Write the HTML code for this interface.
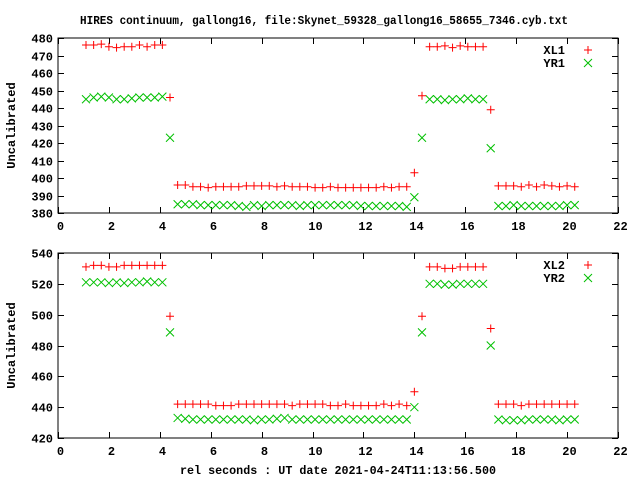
<!DOCTYPE html>
<html><head><meta charset="utf-8"><style>
html,body{margin:0;padding:0;background:#fff}
svg text{font-family:"Liberation Mono",monospace;font-weight:bold;font-size:12px;fill:#000}
</style></head><body>
<svg id="chart" width="640" height="480" viewBox="0 0 640 480" xmlns="http://www.w3.org/2000/svg">
<text x="80" y="24" textLength="488" lengthAdjust="spacingAndGlyphs">HIRES continuum, gallong16, file:Skynet_59328_gallong16_58655_7346.cyb.txt</text>
<text x="180" y="474" textLength="316" lengthAdjust="spacingAndGlyphs">rel seconds : UT date 2021-04-24T11:13:56.500</text>
<g id="top"></g>
<g id="bot"></g>
</svg>
<script>
const times = [];
const t0 = [1.1,1.4,1.7,2.0,2.3,2.6,2.9,3.2,3.5,3.8,4.1,4.4];
const t1 = [4.7,5.0,5.3,5.6,5.9,6.2,6.5,6.8,7.1,7.4,7.7,8.0,8.3,8.6,8.9,9.2,9.5,9.8,10.1,10.4,10.7,11.0,11.3,11.6,11.9,12.2,12.5,12.8,13.1,13.4,13.7,14.0,14.3];
const t2 = [14.6,14.9,15.2,15.5,15.8,16.1,16.4,16.7,17.0];
const t3 = [17.3,17.6,17.9,18.2,18.5,18.8,19.1,19.4,19.7,20.0,20.3];
times.push(...t0,...t1,...t2,...t3);
const xTicks = [0,2,4,6,8,10,12,14,16,18,20,22];
const topTicks = [380,390,400,410,420,430,440,450,460,470,480];
const botTicks = [420,440,460,480,500,520,540];
const xl1 = [476,476,476.5,475,474.5,475,475,476,475,476,476,446,
 396,396,395,395,394.5,395,395,395,395,395.5,395.5,395.5,395.5,395,395.5,395,395,395,394.5,394.5,395,394.5,394.5,394.5,394.5,394.5,394.5,395,394.5,395,395,403,447,
 475,475,475.5,474.5,475.5,475,475,475,439,
 395.5,395.5,395.5,395,396,395,396,395.5,395,395.5,395];
const yr1 = [445,446,446.5,446,445,445,445.5,446,446,446,446.5,423,
 385,385,385,384.5,384.5,384.5,384.5,384.5,384,383.5,384.5,384,384.5,384.5,384.5,384.5,384,384.5,384.5,384.5,384.5,384.5,384.5,384.5,384,384,384,384,384,384,383.5,389,423,
 445,445,444.5,445,445,445.5,445,445,417,
 384,384,384.5,384,384,384,384,384,384,384.5,384.5];
const xl2 = [531,532,532,531,531,532,532,532,532,532,532,499,
 442,442,442,442,442,441,441,441,442,442,442,442,442,442,442,441,442,442,442,442,441,441,442,441,441,441,441,442,441,442,441,450,499,
 531,531,530,530,531,531,531,531,491,
 442,442,442,441,442,442,442,442,442,442,442];
const yr2 = [521,521,521,520.5,521,520.5,521,521,521.5,521,521,488.5,
 433,432.5,432,432,432,432,432,432,432,432,431.5,432,432,432.5,433,432,432,432,432,432,432,432,432,432,432,432,432,432,432,432,432,440,488.5,
 520,520,519.5,519.5,520,520,520,520,480,
 432,431.5,431.5,431.5,432,432,432,432,431.5,432,432];

const NS='http://www.w3.org/2000/svg';
function mk(parent,tag,attrs){const e=document.createElementNS(NS,tag);for(const k in attrs)e.setAttribute(k,attrs[k]);parent.appendChild(e);return e;}
const X0=58,X1=618;
function xs(v){return X0+(v-0)/22*(X1-X0);}

function panel(g,top,bottom,ymin,ymax,ticks,s1,s2,n1,n2,prefix){
  const ys=v=>bottom-(v-ymin)/(ymax-ymin)*(bottom-top);
  const frame=mk(g,'rect',{x:X0,y:top,width:X1-X0,height:bottom-top,fill:'none',stroke:'#000','stroke-width':1});
  
  
  ticks.forEach(t=>{
    const y=Math.round(ys(t))+0.5;
    mk(g,'line',{x1:X0,x2:X0+6,y1:y,y2:y,stroke:'#000'});
    mk(g,'line',{x1:X1-6,x2:X1,y1:y,y2:y,stroke:'#000'});
    const tx=mk(g,'text',{x:X0-5,y:y+4,'text-anchor':'end'});tx.textContent=t;
    
    
  });
  xTicks.forEach(t=>{
    const x=Math.round(xs(t))+0.5;
    mk(g,'line',{x1:x,x2:x,y1:bottom,y2:bottom-6,stroke:'#000'});
    mk(g,'line',{x1:x,x2:x,y1:top,y2:top+6,stroke:'#000'});
    const tx=mk(g,'text',{x:x+2,y:bottom+17,'text-anchor':'middle'});tx.textContent=t;
    
    
  });
  const yl=mk(g,'text',{x:0,y:0,'text-anchor':'middle',transform:`translate(15,${(top+bottom)/2}) rotate(-90)`});
  yl.textContent='Uncalibrated';
  
  
  function plus(x,y,c){const p=mk(g,'path',{d:`M${x-4},${y}h8M${x},${y-4}v8`,stroke:c,fill:'none'});}
  function cross(x,y,c){const p=mk(g,'path',{d:`M${x-4},${y-4}l8,8M${x-4},${y+4}l8,-8`,stroke:c,fill:'none'});}
  s2.forEach((v,i)=>cross(xs(times[i]),ys(v),'#00c000'));
  s1.forEach((v,i)=>plus(xs(times[i]),ys(v),'#ff0000'));
  const l1=mk(g,'text',{x:565,y:top+16,'text-anchor':'end'});l1.textContent=n1;
  
  
  plus(588,top+12,'#ff0000');
  const l2=mk(g,'text',{x:565,y:top+29,'text-anchor':'end'});l2.textContent=n2;
  
  
  cross(588,top+25,'#00c000');
}
panel(document.getElementById('top'),38,213,380,480,topTicks,xl1,yr1,'XL1','YR1','top');
panel(document.getElementById('bot'),253,438,420,540,botTicks,xl2,yr2,'XL2','YR2','bottom');
</script>
</body></html>
